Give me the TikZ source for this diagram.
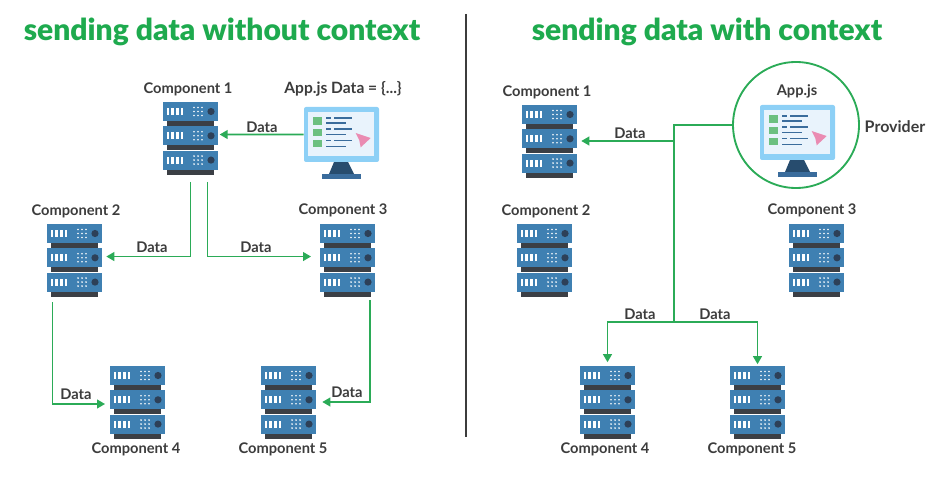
\documentclass[tikz,border=0pt]{standalone}
\usepackage{fontspec}
\setmainfont{Lato}
\newfontfamily\headfont{Lato Black}
\usetikzlibrary{arrows.meta}

\definecolor{linegreen}{HTML}{2BAB57}
\definecolor{titlegreen}{HTML}{1EAA4E}
\definecolor{labelgrey}{HTML}{3C3C3C}
\definecolor{rackblue}{HTML}{3F80B2}
\definecolor{rackdark}{HTML}{3B3F45}
\definecolor{knobdark}{HTML}{2D4058}
\definecolor{framelight}{HTML}{8DD0F6}
\definecolor{screenlight}{HTML}{E9F3FC}
\definecolor{squaregreen}{HTML}{6CC080}
\definecolor{textnavy}{HTML}{3A6C9C}
\definecolor{cursorpink}{HTML}{EA8BB2}
\definecolor{standnavy}{HTML}{274C6E}

\tikzset{
    titletext/.style={font=\headfont\fontsize{22.5}{26}\selectfont, text=titlegreen},
    complabel/.style={font=\bfseries\fontsize{11}{13}\selectfont, text=labelgrey, yshift=-0.75pt},
    datalabel/.style={font=\bfseries\fontsize{11}{13}\selectfont, text=labelgrey},
    dataline/.style={draw=linegreen, line width=1.4pt},
    dataarrow/.style={dataline, -{Triangle[length=6pt,width=6.5pt]}},
    rackbox/.style={minimum width=41.25pt, minimum height=53.25pt, inner sep=0pt},
    deskbox/.style={minimum width=56.25pt, minimum height=41.25pt, inner sep=0pt}
}

% one unit of a rack, #1 = top edge
\newcommand{\rackunit}[1]{
    \fill [rackdark] (4,#1+19) rectangle (51,#1+24);
    \fill [rackblue] (0,#1) rectangle (55,#1+19);
    \foreach \i in {0,...,3}
        \fill [white] (3.5+\i*4.8,#1+6) rectangle (6+\i*4.8,#1+13);
    \foreach \i in {0,1,2}
        \foreach \j in {0,1,2}
            \fill [white] (31+\i*4,#1+5.5+\j*4) circle [radius=0.9];
    \fill [knobdark] (48,#1+9.5) circle [radius=3.6];
}

% #1 name, #2 and #3 top left corner
\newcommand{\rack}[3]{
    \begin{scope}[shift={(#2,#3)}]
        \rackunit{0}
        \rackunit{24.3}
        \rackunit{48.6}
        \node [rackbox] (#1) at (27.5,36) {};
    \end{scope}
}

% #1 name, #2 and #3 top left corner
\newcommand{\desktop}[3]{
    \begin{scope}[shift={(#2,#3)}]
        \fill [standnavy] (30,55) -- (44,55) -- (50,67) -- (25,67) -- cycle;
        \fill [textnavy] (17.7,67) rectangle (57,72);
        \fill [framelight, rounded corners=1.5pt] (0,0) rectangle (75,55);
        \fill [screenlight] (4.3,5) rectangle (70,48.7);
        \foreach \y in {10.3,21.7,32.7}
            \fill [squaregreen] (9.3,\y) rectangle (17.7,\y+7.4);
        \foreach \y in {11,22,33.3}
            \draw [textnavy, line width=0.9pt] (22,\y) -- (27,\y) (30,\y) -- (48,\y);
        \foreach \y in {16,27.7,39.3}
            \draw [textnavy, line width=0.9pt] (22,\y) -- (42,\y);
        \fill [cursorpink] (51.7,26) -- (66.7,31) -- (56.7,40.3) -- (55.3,33.3) -- cycle;
        \node [deskbox] (#1) at (37.5,27.5) {};
    \end{scope}
}

\begin{document}
\begin{tikzpicture}[x=0.75pt, y=-0.75pt]
    \useasboundingbox (0,0) rectangle (941,484);

    \node [titletext] (titleleft) at (222,32) {sending data without context};
    \node [titletext] (titleright) at (707,32) {sending data with context};
    \coordinate (dividertop) at (466,14);
    \coordinate (dividerbot) at (466,437);
    \draw [labelgrey, line width=1pt] (dividertop) -- (dividerbot);

    % left side
    \rack{lrackA}{163}{102}
    \rack{lrackB}{47}{224}
    \rack{lrackC}{320}{224}
    \rack{lrackD}{110}{366}
    \rack{lrackE}{261}{366}
    \desktop{ldesk}{304}{107}

    \node [complabel] (lnameA) at (188,88) {Component 1};
    \node [complabel] (lnameB) at (76,210) {Component 2};
    \node [complabel] (lnameC) at (343,209) {Component 3};
    \node [complabel] (lnameD) at (136,448) {Component 4};
    \node [complabel] (lnameE) at (283,448) {Component 5};
    \node [complabel, font=\bfseries\fontsize{11.7}{13}\selectfont] (ldeskname) at (343,88) {App.js Data = \{...\}};

    \draw [dataarrow] (ldesk.west) -- ([xshift=1pt,yshift=2.6pt]lrackA.east);
    \draw [dataarrow] ([yshift=-6pt]lrackA.south) |- ([xshift=3pt,yshift=2.6pt]lrackB.east);
    \draw [dataarrow] ([xshift=12.75pt,yshift=-6pt]lrackA.south) |- ([xshift=-6.5pt,yshift=2.6pt]lrackC.west);
    \draw [dataarrow] ([xshift=-16.5pt,yshift=-5pt]lrackB.south) |- ([xshift=-3.5pt,yshift=-1.5pt]lrackD.west);
    \draw [dataarrow] ([xshift=17pt,yshift=-3pt]lrackC.south) |- ([xshift=4.5pt]lrackE.east);

    \node [datalabel] (ldataA) at (262,127) {Data};
    \node [datalabel] (ldataB) at (152,247) {Data};
    \node [datalabel] (ldataC) at (256,247) {Data};
    \node [datalabel] (ldataD) at (76,394) {Data};
    \node [datalabel] (ldataE) at (347,392) {Data};

    % right side
    \rack{rrackA}{522}{105}
    \rack{rrackB}{517}{224}
    \rack{rrackC}{789}{224}
    \rack{rrackD}{580}{366}
    \rack{rrackE}{730}{366}
    \desktop{rdesk}{760}{105}
    \node [draw=linegreen, line width=1.4pt, circle, minimum size=94.5pt, inner sep=0pt] (rcircle) at (796,125) {};

    \node [complabel] (rnameA) at (547,91) {Component 1};
    \node [complabel] (rnameB) at (546,210) {Component 2};
    \node [complabel] (rnameC) at (812,209) {Component 3};
    \node [complabel] (rnameD) at (605,448) {Component 4};
    \node [complabel] (rnameE) at (752,448) {Component 5};
    \node [complabel] (rdeskname) at (797,90) {App.js};
    \node [complabel, font=\bfseries\fontsize{12}{14}\selectfont] (rprovider) at (895,126) {Provider};

    \coordinate (trunktop) at (674,125);
    \coordinate (trunkbot) at (674,322);
    \draw [dataline] (rcircle.west) -- (trunktop) -- (trunkbot);
    \draw [dataarrow] (trunktop |- rrackA.east) -- ([xshift=3pt]rrackA.east);
    \draw [dataarrow] (trunkbot) -| ([yshift=3pt]rrackD.north);
    \draw [dataarrow] (trunkbot) -| ([yshift=1.5pt]rrackE.north);

    \node [datalabel] (rdataA) at (630,133) {Data};
    \node [datalabel] (rdataB) at (640,314) {Data};
    \node [datalabel] (rdataC) at (715,314) {Data};
\end{tikzpicture}
\end{document}
